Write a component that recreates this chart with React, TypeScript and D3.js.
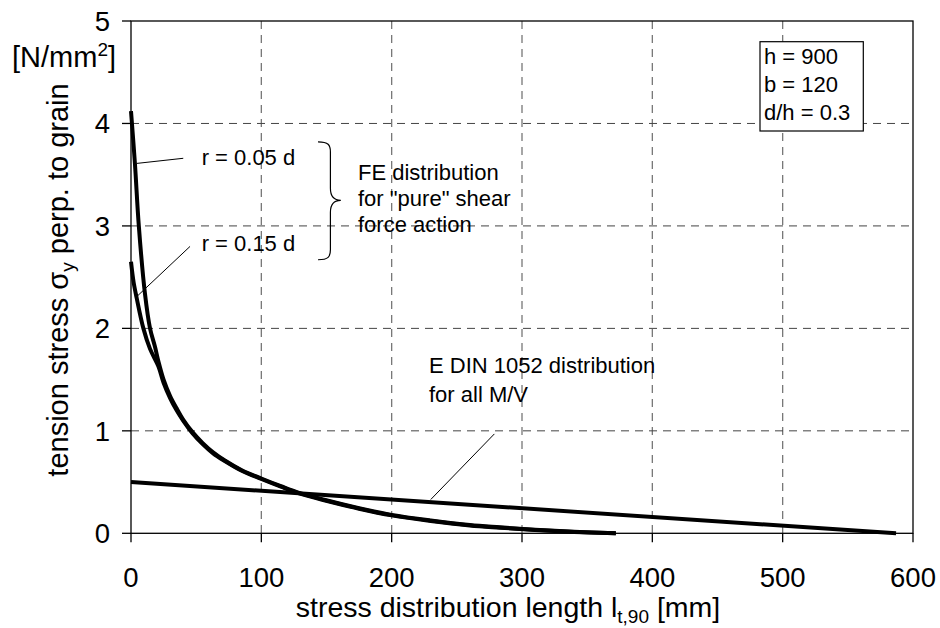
import React from "react";
import * as d3 from "d3";

// ---- data ----
const xTicks = [0, 100, 200, 300, 400, 500, 600];
const yTicks = [0, 1, 2, 3, 4, 5];

const feR005X = [0, 3, 6, 10.7, 14.6, 18.4, 21, 25, 30, 35, 40, 47, 55, 63, 72, 85, 100, 115, 129, 149, 175, 200, 230, 260, 283, 310, 340, 372];
const feR005Y = [4.12, 3.61, 3.0, 2.34, 2.0, 1.82, 1.68, 1.5, 1.34, 1.22, 1.11, 0.99, 0.88, 0.79, 0.71, 0.615, 0.535, 0.46, 0.395, 0.325, 0.245, 0.18, 0.125, 0.08, 0.058, 0.035, 0.015, 0];

const feR015X = [0, 2, 4.3, 9.5, 14.6, 21, 25, 30, 35, 40, 47, 55, 63, 72, 85, 100, 115, 129, 149, 175, 200, 230, 260, 283, 310, 340, 372];
const feR015Y = [2.65, 2.45, 2.3, 2.0, 1.8, 1.63, 1.47, 1.32, 1.2, 1.1, 0.98, 0.87, 0.78, 0.705, 0.61, 0.53, 0.455, 0.39, 0.32, 0.24, 0.175, 0.12, 0.077, 0.055, 0.032, 0.013, 0];

const dinX = [0, 587];
const dinY = [0.5, 0];

const boxLines = ["h = 900", "b = 120", "d/h = 0.3"];
const feLines = ["FE distribution", "for \"pure\" shear", "force action"];
const dinLines = ["E DIN 1052 distribution", "for all M/V"];

const W = 940;
const H = 628;
const M = { left: 131, right: 27, top: 21, bottom: 94.7 };
const FONT = "'Liberation Sans', Arial, sans-serif";

export default function App() {
  const x = d3.scaleLinear().domain([0, 600]).range([M.left, W - M.right]);
  const y = d3.scaleLinear().domain([0, 5]).range([H - M.bottom, M.top]);

  const line = d3
    .line<[number, number]>()
    .x((d) => x(d[0]))
    .y((d) => y(d[1]))
    .curve(d3.curveCatmullRom.alpha(0.5));

  const r005 = feR005X.map((v, i) => [v, feR005Y[i]] as [number, number]);
  const r015 = feR015X.map((v, i) => [v, feR015Y[i]] as [number, number]);
  const din = dinX.map((v, i) => [v, dinY[i]] as [number, number]);

  const x0 = x(0), x1 = x(600), y0 = y(0), y1 = y(5);

  // brace (in data coords)
  const bx = x(153), btip = x(161), bend = x(143.5);
  const bt = y(3.82), bb = y(2.67), bm = y(3.25);
  const brace = `M${bend},${bt} C${bx - 2},${bt} ${bx},${bt + 3} ${bx},${bt + 10} L${bx},${bm - 12} C${bx},${bm - 4} ${bx + 4},${bm} ${btip},${bm} C${bx + 4},${bm} ${bx},${bm + 4} ${bx},${bm + 12} L${bx},${bb - 10} C${bx},${bb - 3} ${bx - 2},${bb} ${bend},${bb}`;

  return (
    <svg width={W} height={H} style={{ position: "absolute", left: 0, top: 0, background: "#fff" }} fontFamily={FONT}>
      <rect x={0} y={0} width={W} height={H} fill="#fff" />
      {/* grid */}
      {xTicks.slice(1, -1).map((t) => (
        <line key={"gx" + t} x1={x(t)} x2={x(t)} y1={y1} y2={y0} stroke="#777" strokeWidth={1.3} strokeDasharray="8,6" />
      ))}
      {yTicks.slice(1, -1).map((t) => (
        <line key={"gy" + t} x1={x0} x2={x1} y1={y(t)} y2={y(t)} stroke="#444" strokeWidth={1} strokeDasharray="8,6" />
      ))}
      {/* frame */}
      <rect x={x0} y={y1} width={x1 - x0} height={y0 - y1} fill="none" stroke="#000" strokeWidth={1.3} />
      {/* ticks */}
      {xTicks.map((t) => (
        <g key={"xt" + t}>
          <line x1={x(t)} x2={x(t)} y1={y0} y2={y0 + 9} stroke="#000" strokeWidth={1.3} />
          <text x={x(t)} y={587} textAnchor="middle" fontSize={27.5}>{t}</text>
        </g>
      ))}
      {yTicks.map((t) => (
        <g key={"yt" + t}>
          <line x1={x0 - 9} x2={x0} y1={y(t)} y2={y(t)} stroke="#000" strokeWidth={1.3} />
          <text x={110} y={y(t) + 10} textAnchor="end" fontSize={27.5}>{t}</text>
        </g>
      ))}
      {/* curves */}
      <path d={line(din) || ""} fill="none" stroke="#000" strokeWidth={4} />
      <path d={line(r015) || ""} fill="none" stroke="#000" strokeWidth={4} />
      <path d={line(r005) || ""} fill="none" stroke="#000" strokeWidth={4} />
      {/* leaders */}
      <line x1={x(40.1)} y1={y(3.66)} x2={x(4.4)} y2={y(3.61)} stroke="#000" strokeWidth={1} />
      <line x1={x(45.3)} y1={y(2.8)} x2={x(4.4)} y2={y(2.31)} stroke="#000" strokeWidth={1} />
      <line x1={x(278.8)} y1={y(0.97)} x2={x(230)} y2={y(0.33)} stroke="#000" strokeWidth={1} />
      {/* annotations */}
      <text x={x(54.2)} y={y(3.59)} fontSize={22}>r = 0.05 d</text>
      <text x={x(54.2)} y={y(2.76)} fontSize={22}>r = 0.15 d</text>
      <path d={brace} fill="none" stroke="#000" strokeWidth={1.2} />
      {feLines.map((s, i) => (
        <text key={s} x={358} y={180 + i * 26} fontSize={22}>{s}</text>
      ))}
      {dinLines.map((s, i) => (
        <text key={s} x={429} y={373.3 + i * 28.4} fontSize={22}>{s}</text>
      ))}
      <rect x={760} y={41.7} width={103.3} height={89.3} fill="#fff" stroke="#000" strokeWidth={1.2} />
      {boxLines.map((s, i) => (
        <text key={s} x={764} y={64 + i * 28} fontSize={22}>{s}</text>
      ))}
      {/* axis titles */}
      <text x={508} y={617} textAnchor="middle" fontSize={28.5}>
        stress distribution length l<tspan fontSize={19} dy={6}>t,90</tspan><tspan dy={-6}> [mm]</tspan>
      </text>
      <text transform={`translate(68,280) rotate(-90)`} textAnchor="middle" fontSize={29}>
        tension stress σ<tspan fontSize={19} dy={6}>y</tspan><tspan dy={-6}> perp. to grain</tspan>
      </text>
      <text x={12} y={67} fontSize={29}>
        [N/mm<tspan fontSize={19} dy={-11}>2</tspan><tspan dy={11}>]</tspan>
      </text>
    </svg>
  );
}
